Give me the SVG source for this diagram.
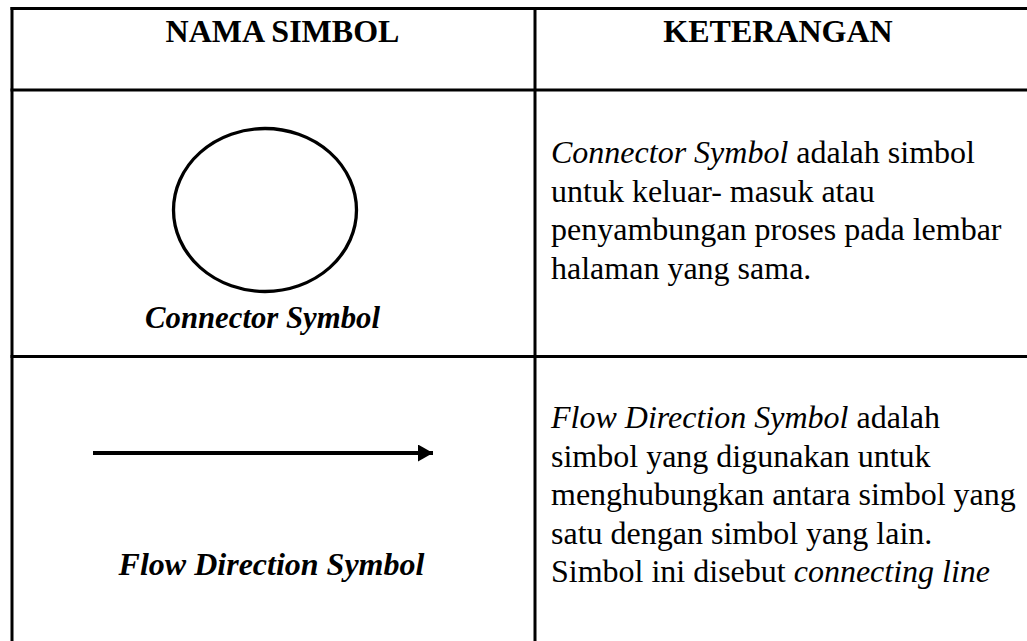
<svg xmlns="http://www.w3.org/2000/svg" width="1027" height="641" viewBox="0 0 1027 641">
<style>
.t{font-family:"Liberation Serif","Times New Roman","DejaVu Serif",serif;font-size:32px;fill:#000}
.b{font-weight:bold}
.i{font-style:italic}
.bi{font-weight:bold;font-style:italic}
.grid{stroke:#000;stroke-width:3;fill:none}
</style>
<defs>
<marker id="ah" markerWidth="16" markerHeight="18" refX="15" refY="8.5" orient="auto" markerUnits="userSpaceOnUse">
<path d="M0,0 L15,8.5 L0,17 Z" fill="#000"/>
</marker>
</defs>
<rect width="1027" height="641" fill="#fff"/>
<g id="table">
<line class="grid" x1="10.5" y1="8.5" x2="1027" y2="8.5"/>
<line class="grid" x1="12" y1="7" x2="12" y2="641"/>
<line class="grid" x1="535" y1="7" x2="535" y2="641"/>
<line class="grid" x1="10.5" y1="90" x2="1027" y2="90"/>
<line class="grid" x1="10.5" y1="356.5" x2="1027" y2="356.5"/>
</g>
<g id="header">
<text class="t b" x="282.5" y="42" text-anchor="middle">NAMA SIMBOL</text>
<text class="t b" x="778" y="42" text-anchor="middle">KETERANGAN</text>
</g>
<g id="connector-symbol">
<ellipse cx="265" cy="210" rx="91.5" ry="81.5" fill="none" stroke="#000" stroke-width="3.3"/>
<text class="t bi" x="262.5" y="328" text-anchor="middle" textLength="235" lengthAdjust="spacingAndGlyphs">Connector Symbol</text>
</g>
<g id="connector-desc">
<text class="t" x="551" y="163"><tspan class="i">Connector Symbol</tspan> adalah simbol</text>
<text class="t" x="551" y="201.5">untuk keluar- masuk atau</text>
<text class="t" x="551" y="240">penyambungan proses pada lembar</text>
<text class="t" x="551" y="278.5">halaman yang sama.</text>
</g>
<g id="flow-symbol">
<text class="t bi" x="271.5" y="575" text-anchor="middle">Flow Direction Symbol</text>
</g>
<g id="connectors">
<line x1="93" y1="453" x2="433" y2="453" stroke="#000" stroke-width="4" marker-end="url(#ah)"/>
</g>
<g id="flow-desc">
<text class="t" x="551" y="428"><tspan class="i">Flow Direction Symbol</tspan> adalah</text>
<text class="t" x="551" y="466.5">simbol yang digunakan untuk</text>
<text class="t" x="551" y="505">menghubungkan antara simbol yang</text>
<text class="t" x="551" y="543.5">satu dengan simbol yang lain.</text>
<text class="t" x="551" y="582">Simbol ini disebut <tspan class="i">connecting line</tspan></text>
</g>
</svg>
